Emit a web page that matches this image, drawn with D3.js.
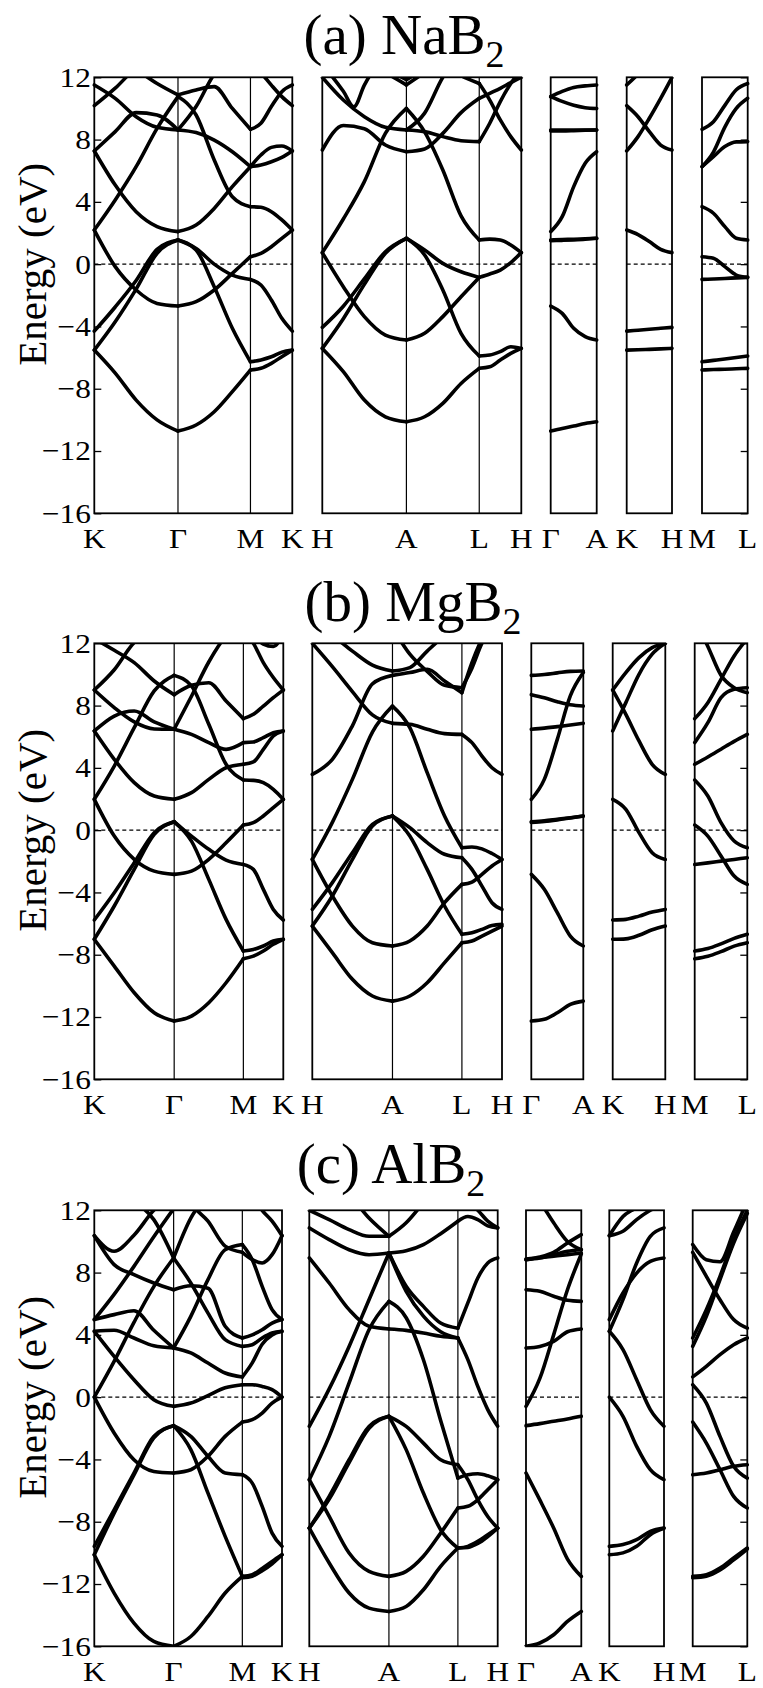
<!DOCTYPE html>
<html>
<head>
<meta charset="utf-8">
<script src="https://cdn.jsdelivr.net/npm/d3@7"></script>
<style>
body{margin:0;background:#fff}
svg{display:block}
text{font-family:"Liberation Serif","Times New Roman",serif;fill:#000}
</style>
</head>
<body>
<svg id="chart"></svg>
<script>
// energies (eV), evenly spaced along each k segment

// (a) NaB2
const naKG = [
  [-5.52, -7.0, -8.73, -10.0, -10.72],
  [-4.30, -2.75, -1.05, 0.95, 1.55],
  [-5.52, -3.7, -1.6, 0.70, 1.55],
  [2.19, -0.16, -1.66, -2.52, -2.69],
  [2.19, 4.12, 6.26, 8.72, 10.76],
  [7.27, 5.08, 3.37, 2.41, 2.09],
  [7.27, 8.51, 9.73, 9.58, 8.62],
  [11.51, 10.65, 9.47, 8.79, 8.62],
  [10.18, 11.3, 12.6, 13.3, 13.5],
  [14, 13.3, 12.5, 11.6, 10.87]
];
const naGM = [
  [-10.72, -10.33, -9.48, -8.19, -6.80],
  [1.55, 0.91, -1.45, -4.12, -6.27],
  [1.55, 1.0, 0.0, -0.70, -0.98],
  [-2.69, -2.41, -1.66, -0.59, 0.48],
  [2.09, 2.51, 3.58, 4.98, 6.26],
  [10.76, 9.58, 6.69, 4.33, 3.69],
  [8.62, 8.45, 7.97, 7.22, 6.26],
  [8.62, 10.12, 12.2, 13.3, 14],
  [10.87, 11.19, 11.4, 10.0, 8.66]
];
const naMK = [
  [-6.27, -6.15, -5.95, -5.65, -5.52],
  [-6.80, -6.69, -6.37, -5.94, -5.52],
  [-0.98, -1.34, -2.30, -3.48, -4.30],
  [0.48, 0.69, 1.12, 1.66, 2.19],
  [3.69, 3.65, 3.37, 2.84, 2.19],
  [6.26, 7.01, 7.5, 7.59, 7.27],
  [6.26, 6.37, 6.58, 6.86, 7.27],
  [8.66, 9.05, 10.12, 11.08, 11.51],
  [13, 12.3, 11.5, 10.76, 10.18]
];
const naHA = [
  [-5.41, -6.9, -8.73, -9.8, -10.12],
  [-4.06, -2.7, -0.95, 0.8, 1.66],
  [-5.41, -3.5, -1.3, 0.7, 1.66],
  [0.74, -1.45, -3.37, -4.55, -4.87],
  [0.74, 2.9, 5.3, 8.4, 10.0],
  [7.33, 8.9, 8.7, 7.65, 7.22],
  [12.0, 10.54, 9.47, 8.79, 8.62],
  [12.8, 12.0, 11.1, 10.1, 11.5, 12.6, 13.2, 13.6, 14],
  [15, 14, 13, 12.3, 11.51],
  [15, 14, 13, 12.5, 11.85]
];
const naAL = [
  [-10.12, -9.8, -8.94, -7.66, -6.69],
  [1.66, 0.59, -1.66, -4.44, -5.90],
  [1.66, 0.91, 0.05, -0.49, -0.85],
  [-4.87, -4.44, -3.37, -2.09, -0.85],
  [10.0, 8.5, 6.05, 3.1, 1.55],
  [7.22, 7.4, 8.4, 9.73, 10.65],
  [8.62, 8.51, 8.19, 7.93, 7.87],
  [8.62, 9.7, 12.0, 13.5, 14.5],
  [11.51, 12.3, 13, 14, 15],
  [11.85, 12.5, 13, 14, 15],
  [14, 13.5, 12.8, 12.1, 11.6]
];
const naLH = [
  [-6.69, -6.59, -6.16, -5.73, -5.41],
  [-5.90, -5.84, -5.62, -5.30, -5.41],
  [-0.85, -0.63, -0.38, 0.1, 0.74],
  [1.55, 1.61, 1.55, 1.23, 0.74],
  [7.87, 9.05, 10.44, 11.6, 12.5],
  [10.65, 10.97, 11.29, 11.66, 12.0],
  [11.6, 10.54, 9.26, 8.19, 7.33]
];
const naGA = [
  [-10.72, -10.55, -10.4, -10.23, -10.12],
  [-2.69, -3.16, -4.12, -4.66, -4.87],
  [1.55, 1.58, 1.6, 1.63, 1.66],
  [1.5, 1.53, 1.56, 1.6, 1.66],
  [2.09, 3.05, 4.98, 6.48, 7.22],
  [8.62, 8.62, 8.62, 8.62, 8.62],
  [8.55, 8.55, 8.57, 8.6, 8.62],
  [10.76, 11.1, 11.35, 11.45, 11.51],
  [10.76, 10.45, 10.2, 10.05, 10.0]
];
const naKH = [
  [-4.30, -4.24, -4.18, -4.12, -4.06],
  [-5.52, -5.5, -5.47, -5.44, -5.41],
  [2.19, 1.9, 1.45, 0.95, 0.74],
  [7.27, 8.19, 9.37, 10.65, 12.0],
  [10.18, 9.47, 8.51, 7.65, 7.33],
  [11.51, 12.2, 13, 13.5, 14]
];
const naML = [
  [-6.27, -6.18, -6.09, -5.99, -5.90],
  [-6.80, -6.77, -6.75, -6.72, -6.69],
  [-0.98, -0.95, -0.92, -0.88, -0.85],
  [0.48, 0.38, -0.16, -0.70, -0.85],
  [3.69, 3.27, 2.41, 1.66, 1.55],
  [6.26, 6.9, 7.55, 7.85, 7.87],
  [6.26, 7.2, 8.8, 10.0, 10.65],
  [8.66, 9.15, 10.2, 11.2, 11.6]
];

// (b) MgB2
const mgKG = [
  [-7.01, -8.73, -10.44, -11.73, -12.26],
  [-5.77, -4.02, -2.09, -0.16, 0.54],
  [-7.01, -4.87, -2.52, -0.27, 0.54],
  [1.98, -0.38, -1.87, -2.63, -2.84],
  [6.37, 4.55, 3.05, 2.19, 1.98],
  [1.98, 4.12, 6.58, 8.94, 9.94],
  [6.37, 7.33, 7.65, 6.95, 6.48],
  [9.0, 7.87, 6.95, 6.5, 6.48],
  [9.0, 10.3, 12.05, 12.8, 13.4],
  [12.3, 11.55, 10.76, 9.58, 8.7]
];
const mgGM = [
  [-12.26, -11.94, -11.08, -9.80, -8.26],
  [0.54, -0.70, -3.16, -5.73, -7.76],
  [0.54, -0.38, -1.23, -1.92, -2.2],
  [-2.84, -2.63, -1.87, -0.81, 0.33],
  [1.98, 2.41, 3.26, 4.01, 4.23],
  [9.94, 9.26, 6.8, 4.23, 3.22],
  [8.7, 9.30, 9.47, 8.30, 7.16],
  [6.48, 8.6, 10.8, 12.5, 13.5],
  [6.48, 6.15, 5.62, 5.19, 5.62]
];
const mgMK = [
  [-8.26, -8.09, -7.76, -7.33, -7.01],
  [-7.76, -7.66, -7.44, -7.12, -7.01],
  [-2.2, -2.52, -3.80, -5.09, -5.77],
  [0.33, 0.48, 0.91, 1.44, 1.98],
  [3.22, 3.2, 3.05, 2.62, 1.98],
  [4.23, 4.38, 5.19, 6.05, 6.37],
  [5.62, 5.66, 5.94, 6.26, 6.37],
  [7.16, 7.44, 7.97, 8.51, 9.0],
  [12.8, 12.0, 10.76, 9.8, 9.0],
  [13.5, 12.6, 11.95, 11.8, 12.6]
];
const mgHA = [
  [-6.16, -7.87, -9.58, -10.65, -10.98],
  [-5.09, -3.37, -1.45, 0.37, 0.91],
  [-6.16, -4.23, -1.88, 0.27, 0.91],
  [-1.88, -4.23, -6.16, -7.23, -7.44],
  [-1.88, 0.5, 3.26, 6.3, 7.97],
  [3.58, 4.55, 6.7, 9.4, 9.94],
  [12.0, 10.5, 8.9, 7.4, 6.86],
  [13.3, 12.5, 11.5, 10.6, 10.22]
];
const mgAL = [
  [-10.98, -10.65, -9.8, -8.51, -7.23],
  [0.91, -0.38, -2.52, -4.87, -6.69],
  [0.91, 0.16, -0.80, -1.55, -1.77],
  [-7.44, -7.12, -6.16, -4.66, -3.48],
  [7.97, 6.58, 3.69, 0.91, -1.13],
  [6.86, 6.8, 6.48, 6.2, 6.15],
  [9.94, 10.12, 10.33, 9.58, 8.83],
  [10.22, 10.44, 11.5, 12.5, 13.3],
  [13, 11.3, 10.2, 9.3, 9.15]
];
const mgLH = [
  [-7.23, -7.12, -6.80, -6.48, -6.16],
  [-6.69, -6.59, -6.37, -6.12, -6.05],
  [-1.77, -2.52, -3.59, -4.66, -5.09],
  [-3.48, -3.33, -2.84, -2.30, -1.88],
  [-1.13, -1.08, -1.2, -1.5, -1.88],
  [6.15, 5.62, 4.76, 4.01, 3.58],
  [8.83, 10.76, 12.3, 13.5, 14],
  [9.15, 10.4, 12.0, 13, 14]
];
const mgGA = [
  [-12.26, -12.15, -11.73, -11.19, -10.98],
  [-2.84, -3.80, -5.30, -6.8, -7.44],
  [0.54, 0.6, 0.7, 0.8, 0.91],
  [0.5, 0.56, 0.66, 0.78, 0.91],
  [1.98, 3.26, 5.83, 8.62, 10.12],
  [6.48, 6.55, 6.65, 6.75, 6.86],
  [8.7, 8.5, 8.25, 8.05, 7.97],
  [9.94, 10.0, 10.1, 10.2, 10.22]
];
const mgKH = [
  [-5.77, -5.73, -5.52, -5.26, -5.09],
  [-7.01, -6.98, -6.75, -6.4, -6.16],
  [1.98, 1.34, -0.16, -1.45, -1.88],
  [6.37, 8.19, 10.01, 11.3, 12.0],
  [9.0, 10.12, 11.08, 11.72, 12.0],
  [9.0, 7.44, 5.73, 4.23, 3.58]
];
const mgML = [
  [-7.76, -7.6, -7.3, -6.95, -6.69],
  [-8.26, -8.1, -7.8, -7.45, -7.23],
  [-2.2, -2.1, -1.99, -1.88, -1.77],
  [0.33, -0.38, -1.66, -2.95, -3.48],
  [3.22, 2.19, 0.48, -0.70, -1.13],
  [4.23, 4.7, 5.2, 5.7, 6.15],
  [5.62, 6.9, 8.51, 9.05, 9.15],
  [7.16, 8.19, 9.69, 11.19, 12.3],
  [13.5, 11.8, 9.95, 9.15, 8.83]
];

// (c) AlB2
const alKG = [
  [-10.12, -12.58, -14.51, -15.69, -16.0],
  [-9.58, -7.23, -4.87, -2.52, -1.83],
  [-10.12, -7.45, -5.0, -2.62, -1.83],
  [0.0, -2.30, -4.02, -4.77, -4.87],
  [0.0, 2.3, 4.8, 7.1, 8.94],
  [4.23, 2.62, 1.12, -0.16, -0.59],
  [4.98, 5.3, 5.55, 4.3, 3.16],
  [4.23, 4.3, 3.8, 3.3, 3.16],
  [4.98, 6.6, 8.4, 10.3, 12.1],
  [10.37, 9.37, 10.4, 12.0, 13.0],
  [10.37, 8.51, 7.87, 7.33, 6.9],
  [14, 13.3, 12.6, 11.4, 8.94]
];
const alGM = [
  [-16.0, -15.37, -14.08, -12.58, -11.51],
  [-1.83, -3.37, -6.16, -8.94, -11.51],
  [-1.83, -2.52, -3.8, -4.87, -4.98],
  [-4.87, -4.66, -3.8, -2.52, -1.6],
  [-0.59, -0.38, 0.1, 0.6, 0.8],
  [3.16, 2.84, 2.19, 1.55, 1.3],
  [6.9, 7.15, 7.0, 4.55, 3.8],
  [8.94, 7.33, 5.40, 3.69, 3.26],
  [3.16, 5.19, 7.55, 9.47, 9.8],
  [8.94, 11.5, 13, 14, 15],
  [15, 12.5, 11.3, 9.7, 9.3]
];
const alMK = [
  [-11.51, -11.4, -11.0, -10.55, -10.12],
  [-11.6, -11.5, -11.15, -10.7, -10.12],
  [-4.98, -5.52, -7.01, -8.73, -9.58],
  [-1.6, -1.45, -1.02, -0.38, 0.0],
  [0.8, 0.8, 0.69, 0.48, 0.0],
  [1.3, 2.2, 3.4, 4.0, 4.23],
  [3.26, 3.37, 3.8, 4.12, 4.23],
  [3.8, 4.0, 4.33, 4.76, 4.98],
  [9.8, 8.83, 7.12, 5.62, 4.98],
  [9.3, 8.83, 8.62, 9.15, 10.37],
  [14, 13, 12.0, 11.3, 10.37]
];
const alHA = [
  [-8.41, -10.65, -12.58, -13.55, -13.76],
  [-5.30, -7.66, -10.01, -11.19, -11.51],
  [-8.41, -6.37, -4.02, -1.88, -1.23],
  [-8.41, -6.55, -4.2, -2.0, -1.23],
  [-5.30, -2.52, 0.91, 4.33, 6.15],
  [-1.87, 0.53, 3.26, 6.26, 9.26],
  [8.94, 7.33, 5.62, 4.55, 4.38],
  [10.87, 10.12, 9.47, 9.15, 9.26],
  [12.0, 11.4, 10.76, 10.33, 10.33],
  [15, 14, 13, 11.5, 10.33]
];
const alAL = [
  [-13.76, -13.44, -12.37, -10.87, -9.69],
  [-1.23, -3.37, -6.16, -8.51, -9.69],
  [-11.51, -11.19, -10.22, -8.73, -7.12],
  [6.15, 5.1, 2.4, -1.5, -5.2],
  [-1.23, -1.88, -2.95, -4.02, -4.34],
  [4.38, 4.29, 4.12, 3.91, 3.8],
  [9.26, 7.12, 5.83, 4.76, 4.43],
  [9.26, 6.8, 5.2, 4.2, 3.8],
  [10.33, 11.2, 12.5, 14, 15],
  [9.26, 9.4, 9.8, 10.5, 11.3]
];
const alLH = [
  [-9.69, -9.58, -9.26, -8.83, -8.41],
  [-9.69, -9.65, -9.4, -8.95, -8.41],
  [-4.34, -5.30, -6.59, -7.66, -8.41],
  [-7.12, -7.01, -6.59, -5.94, -5.30],
  [-5.2, -4.98, -4.92, -5.05, -5.30],
  [3.8, 2.41, 0.69, -0.8, -1.87],
  [4.43, 6.05, 7.65, 8.62, 8.94],
  [11.3, 11.6, 11.4, 11.0, 10.87],
  [13, 12.5, 12.0, 11.3, 10.87]
];
const alGA = [
  [-16.0, -15.79, -15.26, -14.4, -13.76],
  [-4.87, -6.6, -8.4, -10.4, -11.51],
  [-1.83, -1.7, -1.55, -1.4, -1.23],
  [-0.59, 1.2, 4.0, 6.9, 9.2],
  [3.16, 3.26, 3.58, 4.2, 4.38],
  [6.9, 6.8, 6.48, 6.22, 6.15],
  [8.83, 8.94, 9.15, 9.37, 9.47],
  [8.87, 8.95, 9.05, 9.15, 9.26],
  [8.83, 9.0, 9.3, 9.9, 10.44],
  [14, 12.6, 11.2, 10.0, 9.47]
];
const alKH = [
  [-9.58, -9.47, -9.15, -8.62, -8.41],
  [-10.12, -10.0, -9.58, -8.83, -8.41],
  [0.0, -1.23, -3.16, -4.66, -5.30],
  [4.23, 3.05, 1.12, -0.8, -1.87],
  [4.98, 6.69, 7.97, 8.72, 8.94],
  [4.23, 6.26, 8.62, 10.33, 10.87],
  [10.37, 10.65, 11.4, 12.0, 12.4],
  [10.37, 11.6, 12.2, 13, 13.5]
];
const alML = [
  [-11.51, -11.4, -10.98, -10.33, -9.69],
  [-11.6, -11.5, -11.1, -10.45, -9.75],
  [-4.98, -4.87, -4.66, -4.44, -4.34],
  [-1.6, -2.95, -4.66, -6.37, -7.12],
  [0.8, -0.38, -2.52, -4.44, -5.2],
  [1.3, 1.98, 2.73, 3.37, 3.8],
  [3.8, 5.62, 7.76, 10.12, 12.0],
  [3.26, 5.19, 7.55, 9.9, 11.8],
  [9.3, 7.76, 6.26, 4.98, 4.43],
  [9.8, 8.83, 8.7, 10.6, 12.6]
];

const kLabels = [["K", "Γ", "M", "K"], ["H", "A", "L", "H"], ["Γ", "A"], ["K", "H"], ["M", "L"]];
// relative path lengths of the segments in each sub-panel (hexagonal zone)
const segLength = [[2 / 3, 1 / Math.sqrt(3), 1 / 3], [2 / 3, 1 / Math.sqrt(3), 1 / 3], [1], [1], [1]];
const energyTicks = [12, 8, 4, 0, -4, -8, -12, -16];
const titles = ["(a) NaB", "(b) MgB", "(c) AlB"];

const materials = [
  [[naKG, naGM, naMK], [naHA, naAL, naLH], [naGA], [naKH], [naML]],
  [[mgKG, mgGM, mgMK], [mgHA, mgAL, mgLH], [mgGA], [mgKH], [mgML]],
  [[alKG, alGM, alMK], [alHA, alAL, alLH], [alGA], [alKH], [alML]]
];

// layout: where each panel and its sub-panels sit on the page
const layout = [
  {top: 77.3, titleX: 404, titleY: 53.5,
   cols: [[94.3, 292.3], [322.3, 521.3], [550.7, 596.7], [626.7, 672], [702, 747.7]]},
  {top: 643.3, titleX: 413, titleY: 621,
   cols: [[94.3, 283.3], [312.3, 502], [531.3, 583.3], [612.7, 665.3], [694.7, 747.3]]},
  {top: 1210.3, titleX: 391, titleY: 1183,
   cols: [[94.3, 282], [309.3, 497.7], [526, 581.3], [609.3, 664], [692.7, 747.3]]}
];
const plotHeight = 436;
const stretch = 1.12;   // the original lettering is a bit wider than the font

const svg = d3.select("#chart").attr("width", 763).attr("height", 1688);
const defs = svg.append("defs");

materials.forEach((mat, p) => {
  const lay = layout[p];
  const y = d3.scaleLinear().domain([-16, 12]).range([lay.top + plotHeight, lay.top]);
  const g = svg.append("g");

  // title with subscript
  const t = g.append("text")
    .attr("x", lay.titleX).attr("y", lay.titleY)
    .attr("text-anchor", "middle")
    .style("font-size", "57px")
    .text(titles[p]);
  t.append("tspan").attr("dy", 13).style("font-size", "38px").text("2");

  // y label
  g.append("text")
    .attr("transform", `translate(46,${lay.top + 187}) rotate(-90)`)
    .attr("text-anchor", "middle")
    .style("font-size", "41px")
    .text("Energy (eV)");

  lay.cols.forEach(([c0, c1], s) => {
    const segs = segLength[s];
    const kPts = [0];
    segs.forEach(l => kPts.push(kPts[kPts.length - 1] + l));
    const x = d3.scaleLinear().domain([0, kPts[kPts.length - 1]]).range([c0, c1]);

    const id = `clip${p}_${s}`;
    defs.append("clipPath").attr("id", id)
      .append("rect")
      .attr("x", c0 - 3).attr("y", lay.top)
      .attr("width", c1 - c0 + 6).attr("height", plotHeight);

    const sub = g.append("g");

    // fermi level
    sub.append("line")
      .attr("x1", c0).attr("x2", c1)
      .attr("y1", y(0)).attr("y2", y(0))
      .attr("stroke", "#000").attr("stroke-width", 1.2)
      .attr("stroke-dasharray", "4,3");

    // high-symmetry verticals
    kPts.slice(1, -1).forEach(k => {
      sub.append("line")
        .attr("x1", x(k)).attr("x2", x(k))
        .attr("y1", lay.top).attr("y2", lay.top + plotHeight)
        .attr("stroke", "#000").attr("stroke-width", 1.2);
    });

    // bands
    const line = d3.line()
      .x(d => x(d[0]))
      .y(d => y(d[1]))
      .curve(d3.curveMonotoneX);

    const bandG = sub.append("g").attr("clip-path", `url(#${id})`);
    mat[s].forEach((bands, i) => {
      bands.forEach(b => {
        const pts = b.map((e, j) => [kPts[i] + segs[i] * j / (b.length - 1), e]);
        bandG.append("path")
          .attr("d", line(pts))
          .attr("fill", "none")
          .attr("stroke", "#000")
          .attr("stroke-width", 3.6)
          .attr("stroke-linecap", "round")
          .attr("stroke-linejoin", "round");
      });
    });

    // frame
    sub.append("rect")
      .attr("x", c0).attr("y", lay.top)
      .attr("width", c1 - c0).attr("height", plotHeight)
      .attr("fill", "none").attr("stroke", "#000").attr("stroke-width", 1.8);

    // k-point labels
    kPts.forEach((k, j) => {
      sub.append("text")
        .attr("transform", `translate(${x(k)},${lay.top + plotHeight + 35}) scale(${stretch},1)`)
        .attr("text-anchor", "middle")
        .style("font-size", "28px")
        .text(kLabels[s][j]);
    });
  });

  // energy axis on the left, plain ticks on the right
  const left = lay.cols[0][0], right = lay.cols[4][1];
  g.append("g")
    .attr("transform", `translate(${left},0)`)
    .call(d3.axisLeft(y).tickValues(energyTicks).tickSize(-7).tickPadding(3))
    .call(a => a.select(".domain").remove())
    .call(a => a.selectAll("line").attr("stroke-width", 1.3))
    .call(a => a.selectAll("text")
      .style("font-size", "28px")
      .attr("transform", `scale(${stretch},1)`));

  g.append("g")
    .attr("transform", `translate(${right},0)`)
    .call(d3.axisRight(y).tickValues(energyTicks).tickSize(-7).tickFormat(() => ""))
    .call(a => a.select(".domain").remove())
    .call(a => a.selectAll("line").attr("stroke-width", 1.3));
});
</script>
</body>
</html>
